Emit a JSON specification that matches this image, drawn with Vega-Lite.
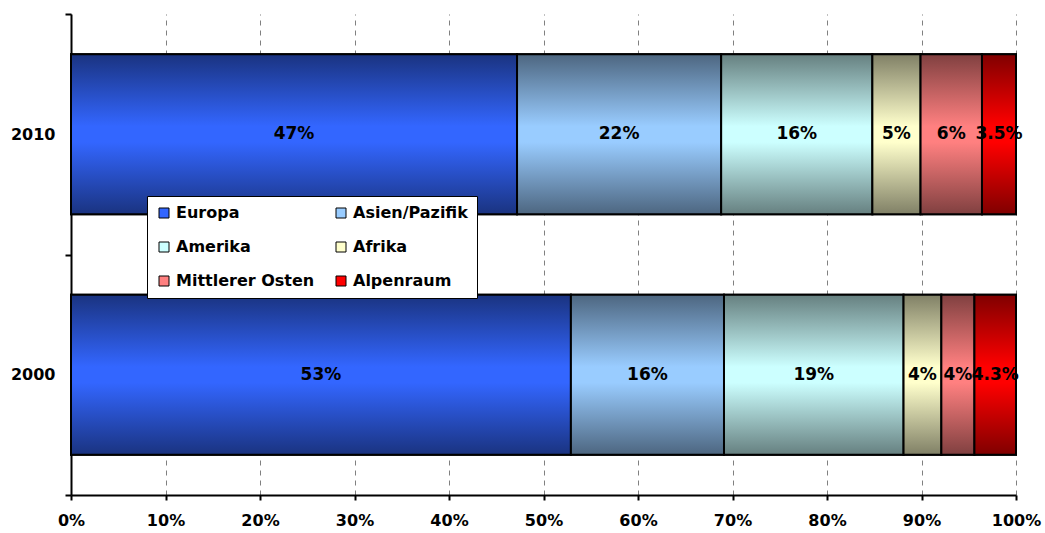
{
  "$schema": "https://vega.github.io/schema/vega-lite/v6.json",
  "width": 945,
  "height": 481,
  "autosize": {"type": "none"},
  "padding": {"left": 71, "top": 14, "right": 29, "bottom": 38},
  "background": "white",
  "config": {
    "view": {"stroke": null},
    "font": "DejaVu Sans"
  },
  "data": {
    "values": [
      {"year": "2010", "region": "Europa", "order": 1, "value": 47.2, "label": "47%"},
      {"year": "2010", "region": "Asien/Pazifik", "order": 2, "value": 21.6, "label": "22%"},
      {"year": "2010", "region": "Amerika", "order": 3, "value": 16.0, "label": "16%"},
      {"year": "2010", "region": "Afrika", "order": 4, "value": 5.1, "label": "5%"},
      {"year": "2010", "region": "Mittlerer Osten", "order": 5, "value": 6.5, "label": "6%"},
      {"year": "2010", "region": "Alpenraum", "order": 6, "value": 3.6, "label": "3.5%"},
      {"year": "2000", "region": "Europa", "order": 1, "value": 52.9, "label": "53%"},
      {"year": "2000", "region": "Asien/Pazifik", "order": 2, "value": 16.2, "label": "16%"},
      {"year": "2000", "region": "Amerika", "order": 3, "value": 19.0, "label": "19%"},
      {"year": "2000", "region": "Afrika", "order": 4, "value": 4.0, "label": "4%"},
      {"year": "2000", "region": "Mittlerer Osten", "order": 5, "value": 3.5, "label": "4%"},
      {"year": "2000", "region": "Alpenraum", "order": 6, "value": 4.4, "label": "4.3%"}
    ]
  },
  "transform": [
    {"stack": "value", "groupby": ["year"], "sort": [{"field": "order"}], "offset": "normalize", "as": ["x0", "x1"]},
    {"calculate": "(datum.x0 + datum.x1) / 2", "as": "xm"}
  ],
  "encoding": {
    "y": {
      "field": "year",
      "type": "nominal",
      "sort": ["2010", "2000"],
      "scale": {"paddingInner": 0, "paddingOuter": 0},
      "axis": {
        "title": null,
        "tickBand": "extent",
        "grid": false,
        "domainColor": "black",
        "domainWidth": 2,
        "tickColor": "black",
        "tickWidth": 2,
        "tickSize": 6,
        "labelFont": "DejaVu Sans",
        "labelFontWeight": "bold",
        "labelFontSize": 16,
        "labelColor": "black",
        "labelPadding": 10
      }
    },
    "x": {"field": "x0", "type": "quantitative"},
    "x2": {"field": "x1"}
  },
  "layer": [
    {
      "mark": {"type": "bar", "height": {"band": 0.665}, "stroke": "black", "strokeWidth": 2},
      "encoding": {
        "x": {
          "field": "x0",
          "type": "quantitative",
          "scale": {"domain": [0, 1], "nice": false},
          "axis": {
            "title": null,
            "format": ".0%",
            "values": [0, 0.1, 0.2, 0.3, 0.4, 0.5, 0.6, 0.7, 0.8, 0.9, 1],
            "grid": true,
            "gridColor": "#808080",
            "gridDash": [5, 5],
            "gridWidth": 1,
            "domainColor": "black",
            "domainWidth": 2,
            "tickColor": "black",
            "tickWidth": 2,
            "tickSize": 5,
            "labelFont": "DejaVu Sans",
            "labelFontWeight": "bold",
            "labelFontSize": 16,
            "labelColor": "black",
            "labelPadding": 12,
            "labelFlush": false
          }
        },
        "color": {
          "field": "region",
          "type": "nominal",
          "scale": {
            "domain": ["Europa", "Asien/Pazifik", "Amerika", "Afrika", "Mittlerer Osten", "Alpenraum"],
            "range": ["#3366ff", "#99ccff", "#ccffff", "#ffffcc", "#ff8080", "#ff0000"]
          },
          "legend": {
            "title": null,
            "orient": "none",
            "legendX": 76,
            "legendY": 182,
            "direction": "horizontal",
            "columns": 2,
            "gridAlign": "all",
            "columnPadding": 18,
            "rowPadding": 18,
            "padding": 9,
            "fillColor": "white",
            "strokeColor": "black",
            "symbolType": "square",
            "symbolSize": 100,
            "symbolStrokeColor": "black",
            "symbolStrokeWidth": 1,
            "symbolOpacity": 1,
            "labelFont": "DejaVu Sans",
            "labelFontWeight": "bold",
            "labelFontSize": 16,
            "labelColor": "black",
            "labelOffset": 4,
            "labelLimit": 300
          }
        }
      }
    },
    {
      "transform": [{"filter": "datum.region === 'Europa'"}],
      "mark": {"type": "bar", "height": {"band": 0.665}, "stroke": "black", "strokeWidth": 2,
        "color": {"gradient": "linear", "x1": 0, "y1": 0, "x2": 0, "y2": 1, "stops": [{"offset": 0, "color": "#1a3380"}, {"offset": 0.45, "color": "#3366ff"}, {"offset": 0.55, "color": "#3366ff"}, {"offset": 1, "color": "#1a3380"}]}}
    },
    {
      "transform": [{"filter": "datum.region === 'Asien/Pazifik'"}],
      "mark": {"type": "bar", "height": {"band": 0.665}, "stroke": "black", "strokeWidth": 2,
        "color": {"gradient": "linear", "x1": 0, "y1": 0, "x2": 0, "y2": 1, "stops": [{"offset": 0, "color": "#4d6680"}, {"offset": 0.45, "color": "#99ccff"}, {"offset": 0.55, "color": "#99ccff"}, {"offset": 1, "color": "#4d6680"}]}}
    },
    {
      "transform": [{"filter": "datum.region === 'Amerika'"}],
      "mark": {"type": "bar", "height": {"band": 0.665}, "stroke": "black", "strokeWidth": 2,
        "color": {"gradient": "linear", "x1": 0, "y1": 0, "x2": 0, "y2": 1, "stops": [{"offset": 0, "color": "#668080"}, {"offset": 0.45, "color": "#ccffff"}, {"offset": 0.55, "color": "#ccffff"}, {"offset": 1, "color": "#668080"}]}}
    },
    {
      "transform": [{"filter": "datum.region === 'Afrika'"}],
      "mark": {"type": "bar", "height": {"band": 0.665}, "stroke": "black", "strokeWidth": 2,
        "color": {"gradient": "linear", "x1": 0, "y1": 0, "x2": 0, "y2": 1, "stops": [{"offset": 0, "color": "#808066"}, {"offset": 0.45, "color": "#ffffcc"}, {"offset": 0.55, "color": "#ffffcc"}, {"offset": 1, "color": "#808066"}]}}
    },
    {
      "transform": [{"filter": "datum.region === 'Mittlerer Osten'"}],
      "mark": {"type": "bar", "height": {"band": 0.665}, "stroke": "black", "strokeWidth": 2,
        "color": {"gradient": "linear", "x1": 0, "y1": 0, "x2": 0, "y2": 1, "stops": [{"offset": 0, "color": "#804040"}, {"offset": 0.45, "color": "#ff8080"}, {"offset": 0.55, "color": "#ff8080"}, {"offset": 1, "color": "#804040"}]}}
    },
    {
      "transform": [{"filter": "datum.region === 'Alpenraum'"}],
      "mark": {"type": "bar", "height": {"band": 0.665}, "stroke": "black", "strokeWidth": 2,
        "color": {"gradient": "linear", "x1": 0, "y1": 0, "x2": 0, "y2": 1, "stops": [{"offset": 0, "color": "#800000"}, {"offset": 0.45, "color": "#ff0000"}, {"offset": 0.55, "color": "#ff0000"}, {"offset": 1, "color": "#800000"}]}}
    },
    {
      "mark": {"type": "text", "font": "DejaVu Sans", "fontWeight": "bold", "fontSize": 17, "color": "black", "align": "center", "baseline": "middle"},
      "encoding": {
        "x": {"field": "xm", "type": "quantitative"},
        "x2": null,
        "text": {"field": "label", "type": "nominal"}
      }
    }
  ]
}
